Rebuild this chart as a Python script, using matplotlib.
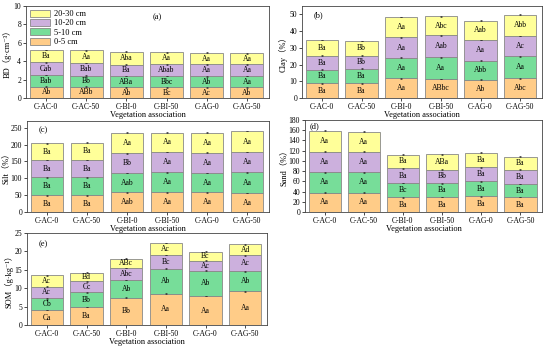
import matplotlib
matplotlib.use("Agg")
import matplotlib.pyplot as plt
import numpy as np

plt.rcParams['font.family'] = ['Liberation Serif', 'Noto Sans CJK SC', 'DejaVu Serif']

groups = ["C-AC-0", "C-AC-50", "C-BI-0", "C-BI-50", "C-AG-0", "C-AG-50"]
layers = ["0-5 cm", "5-10 cm", "10-20 cm", "20-30 cm"]
colors = ["#FFCC88", "#77DD99", "#CCB0DD", "#FFFF99"]

# values per layer (0-5, 5-10, 10-20, 20-30) for each group
bd = [[1.22, 1.22, 1.16, 1.16, 1.16, 1.16],
      [1.27, 1.20, 1.22, 1.22, 1.19, 1.22],
      [1.37, 1.37, 1.23, 1.27, 1.30, 1.27],
      [1.37, 1.41, 1.44, 1.30, 1.26, 1.22]]
clay = [[8.8, 8.8, 11.8, 11.4, 11.0, 11.8],
        [8.2, 8.8, 12.2, 13.0, 11.4, 13.2],
        [8.4, 7.8, 12.2, 13.0, 12.2, 12.0],
        [9.2, 8.6, 12.2, 11.4, 11.6, 12.8]]
silt = [[50, 50, 58, 58, 58, 56],
        [53, 53, 58, 60, 58, 62],
        [51, 51, 58, 60, 60, 60],
        [50, 52, 61, 57, 59, 62]]
sand = [[38, 38, 28.6, 29.2, 30.5, 29.2],
        [40, 40, 27.9, 26.8, 29.3, 25.4],
        [40, 40, 29.3, 27.0, 27.9, 27.9],
        [41, 39, 26.6, 30.0, 28.6, 25.4]]
som = [[4.06, 4.87, 7.4, 8.5, 7.85, 9.2],
       [3.24, 4.03, 4.8, 6.8, 6.95, 5.4],
       [3.1, 3.0, 3.3, 3.7, 2.7, 4.3],
       [3.1, 2.3, 2.5, 3.3, 2.4, 3.0]]

bd_lbl = [["Ab", "ABb", "Ab", "Bc", "Ac", "Ab"],
          ["Bab", "Bb", "ABa", "Bbc", "Ab", "Aa"],
          ["Cab", "Bab", "Ba", "Abab", "Aa", "Aa"],
          ["Ba", "Aa", "Aba", "Aa", "Aa", "Aa"]]
clay_lbl = [["Ba", "Ba", "Aa", "ABbc", "Ab", "Abc"],
            ["Ba", "Ba", "Aa", "Aa", "Abb", "Aa"],
            ["Ba", "Bb", "Aa", "Aab", "Aa", "Ac"],
            ["Ba", "Bb", "Aa", "Abc", "Aab", "Abb"]]
silt_lbl = [["Ba", "Ba", "Aab", "Aa", "Aa", "Aa"],
            ["Ba", "Ba", "Aab", "Aa", "Aa", "Aa"],
            ["Ba", "Ba", "Bb", "Aa", "Aa", "Aa"],
            ["Ba", "Ba", "Aa", "Aa", "Aa", "Aa"]]
sand_lbl = [["Aa", "Aa", "Ba", "Ba", "Ba", "Ba"],
            ["Aa", "Aa", "Bc", "Ba", "Ba", "Ba"],
            ["Aa", "Aa", "Ba", "Bb", "Ba", "Ba"],
            ["Aa", "Aa", "Ba", "ABa", "Ba", "Ba"]]
som_lbl = [["Ca", "Ba", "Bb", "Aa", "Aa", "Aa"],
           ["Cb", "Bb", "Ab", "Ab", "Ab", "Ab"],
           ["Ac", "Cc", "Abc", "Bc", "Ac", "Ac"],
           ["Ac", "Bd", "ABc", "Ac", "Bc", "Ad"]]

panels = [
    dict(vals=bd, lbl=bd_lbl, ylabel="BD（g·cm⁻³）", ylim=(0, 10), step=2, tag="(a)",
         rect=[26, 6, 269, 98], tagpos=(0.52, 0.88), legend=True),
    dict(vals=clay, lbl=clay_lbl, ylabel="Clay（%）", ylim=(0, 55), step=10, tag="(b)",
         rect=[302, 6, 542, 98], tagpos=(0.05, 0.9), legend=False),
    dict(vals=silt, lbl=silt_lbl, ylabel="Silt（%）", ylim=(0, 270), step=50, tag="(c)",
         rect=[27, 121, 269, 212], tagpos=(0.05, 0.9), legend=False),
    dict(vals=sand, lbl=sand_lbl, ylabel="Sand（%）", ylim=(0, 180), step=20, tag="(d)",
         rect=[305, 120, 542, 212], tagpos=(0.02, 0.93), legend=False),
    dict(vals=som, lbl=som_lbl, ylabel="SOM（g·kg⁻¹）", ylim=(0, 25), step=5, tag="(e)",
         rect=[27, 233, 267, 325], tagpos=(0.05, 0.88), legend=False),
]

W, H = 550, 348
fig = plt.figure(figsize=(W / 100, H / 100), dpi=100)
x = np.arange(len(groups))

for p in panels:
    l, t, r, b = p["rect"]
    ax = fig.add_axes([l / W, 1 - b / H, (r - l) / W, (b - t) / H])
    vals = np.array(p["vals"], dtype=float)
    bottom = np.zeros(len(groups))
    handles = []
    for i in range(4):
        h = ax.bar(x, vals[i], 0.82, bottom=bottom, color=colors[i], edgecolor="#888888",
                   linewidth=0.6, label=layers[i], zorder=2)
        handles.append(h)
        top = bottom + vals[i]
        ax.errorbar(x, top, yerr=p["ylim"][1] * 0.004, fmt="none", ecolor="#333333",
                    elinewidth=0.5, capsize=1.0, capthick=0.5, zorder=3)
        for j in range(len(groups)):
            ax.text(x[j], bottom[j] + vals[i][j] / 2, p["lbl"][i][j], ha="center", va="center",
                    fontsize=5.5, zorder=4)
        bottom = top
    ax.set_xlim(-0.5, 5.55)
    ax.set_ylim(*p["ylim"])
    ax.set_yticks(np.arange(p["ylim"][0], p["ylim"][1] + 0.01, p["step"]))
    ax.set_xticks(x)
    ax.set_xticklabels(groups)
    ax.tick_params(labelsize=5.5, length=2, width=0.5, pad=1.5)
    for s in ax.spines.values():
        s.set_linewidth(0.6)
        s.set_color("#444444")
    ax.set_xlabel("Vegetation association", fontsize=6, labelpad=0)
    ax.set_ylabel(p["ylabel"], fontsize=6, labelpad=1)
    ax.text(p["tagpos"][0], p["tagpos"][1], p["tag"], transform=ax.transAxes, fontsize=6,
            ha="left", va="center")
    if p["legend"]:
        ax.legend(handles[::-1], layers[::-1], loc="upper left", fontsize=6, frameon=False,
                  handlelength=2.4, handleheight=0.9, labelspacing=0.12, borderaxespad=0.25,
                  borderpad=0.2, handletextpad=0.5)

fig.savefig("out.png", dpi=100)
